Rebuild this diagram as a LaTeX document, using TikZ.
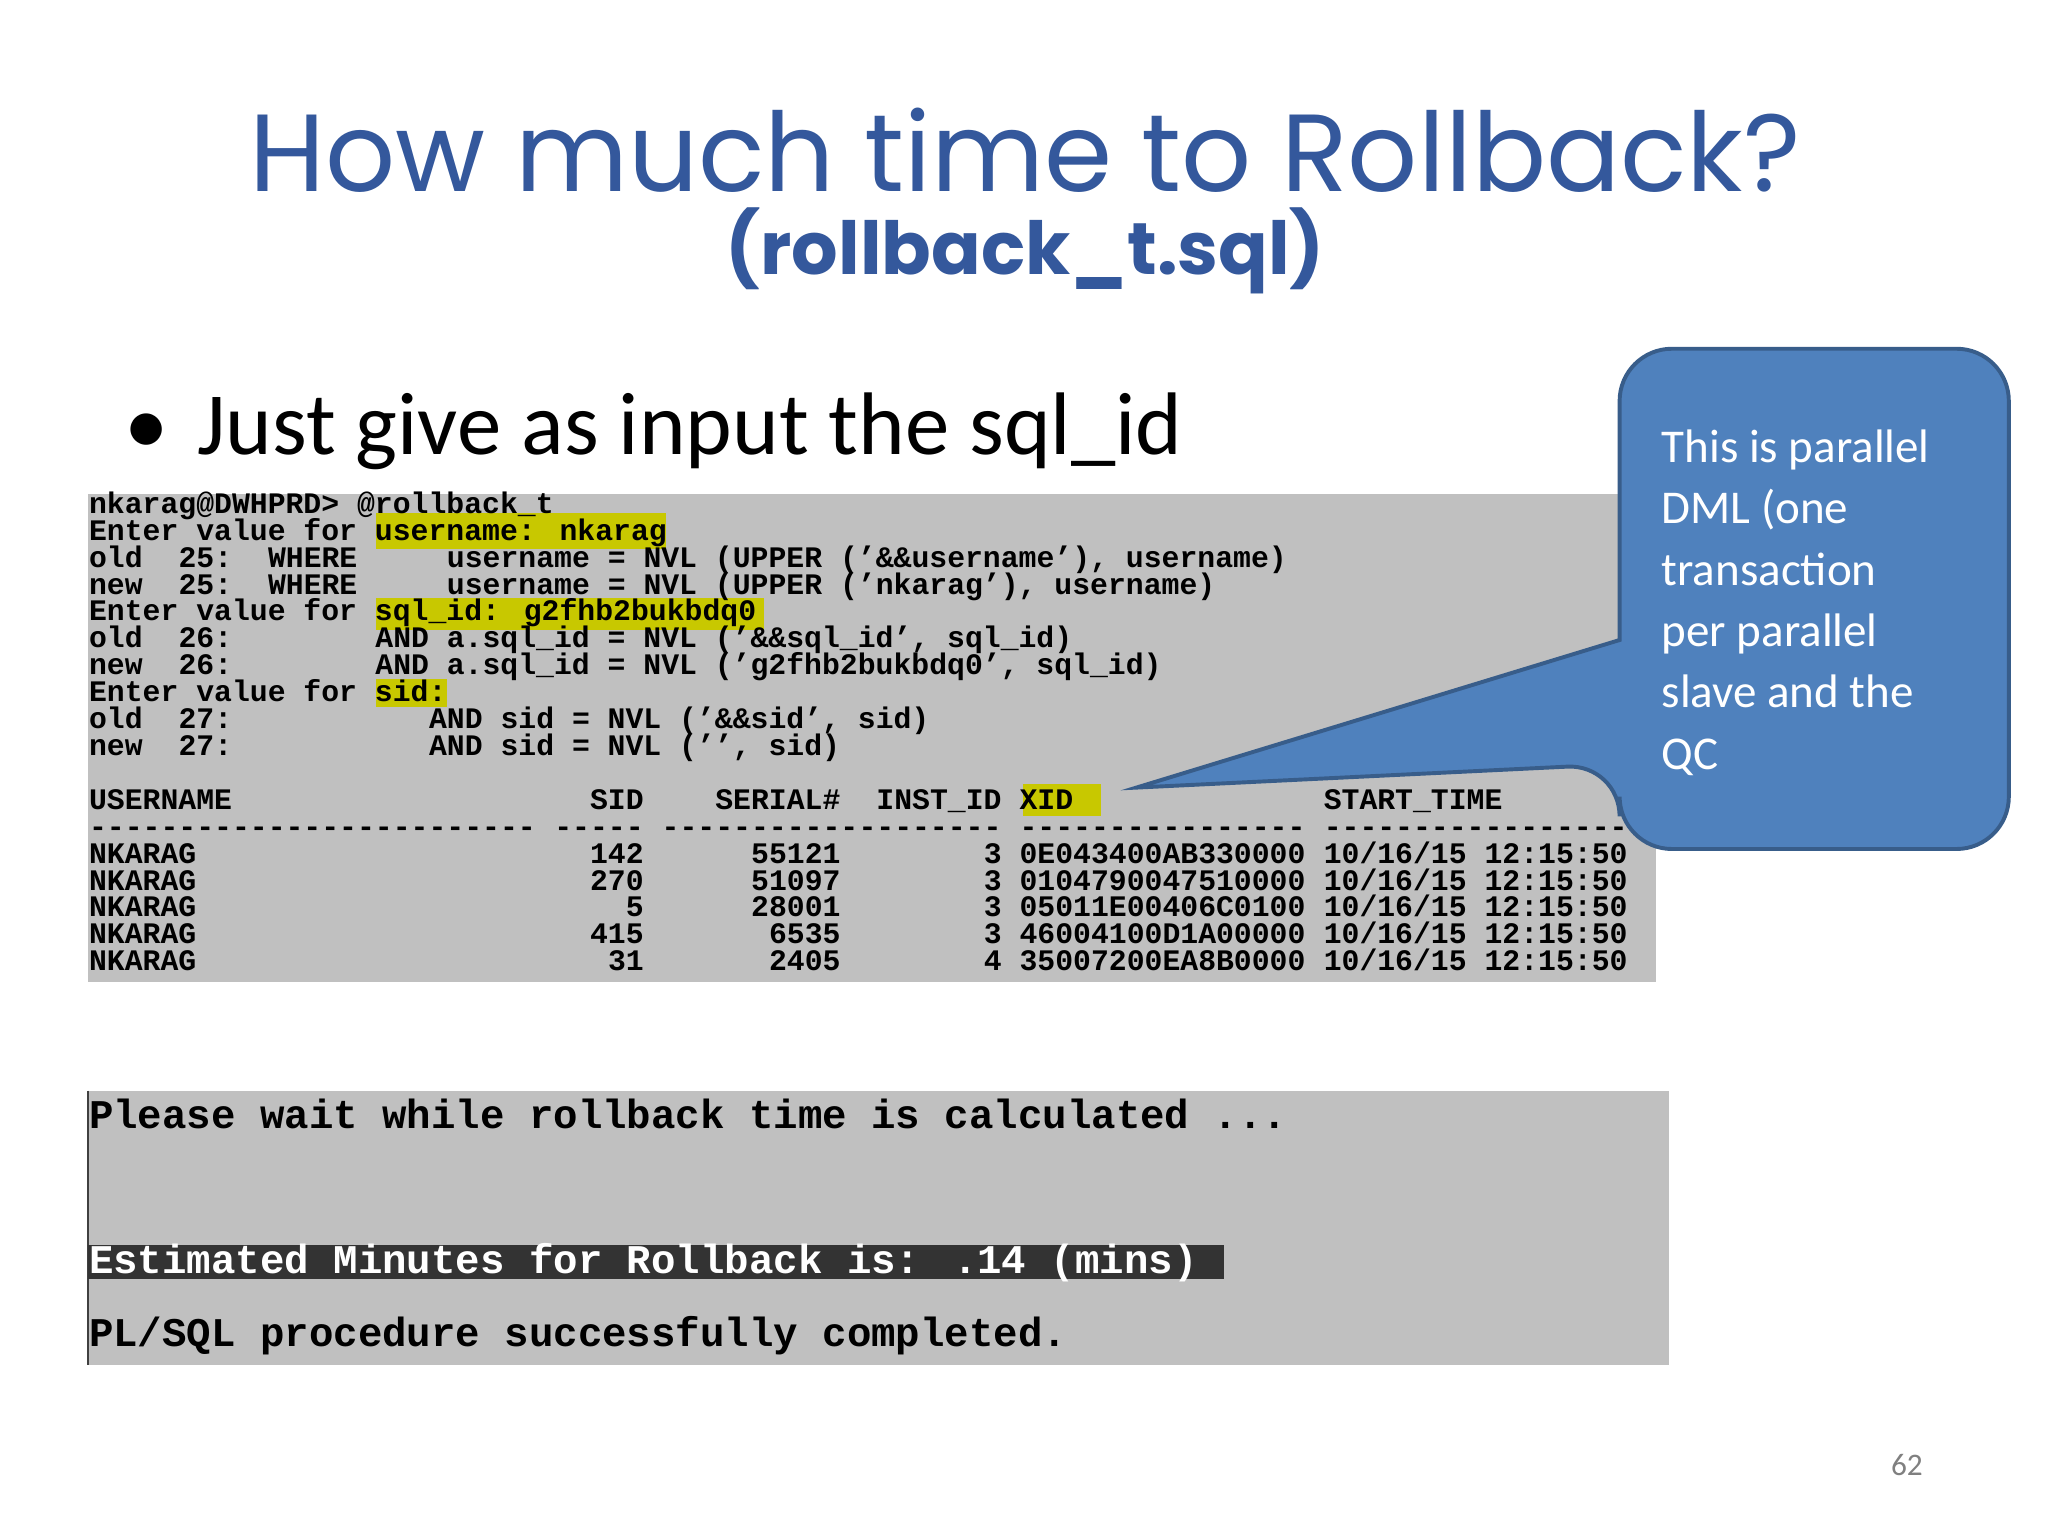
\documentclass[tikz,border=0pt]{standalone}
\usepackage{fontspec}
\setmainfont{Carlito}
\newfontfamily\titlefont{Poppins}
\newfontfamily\termfont{Liberation Mono}
\definecolor{titleblue}{HTML}{34589C}
\definecolor{termgray}{HTML}{C0C0C0}
\definecolor{hl}{HTML}{C8C800}
\definecolor{callfill}{HTML}{4F81BD}
\definecolor{callline}{HTML}{385D8A}
\tikzset{tl/.style={anchor=base west,inner sep=0pt,font=\termfont\bfseries\fontsize{22.8}{22.8}\selectfont},
 tb/.style={anchor=base west,inner sep=0pt,font=\termfont\bfseries\fontsize{31.2}{31.2}\selectfont},
 callout/.style={white,anchor=base west,inner sep=0pt,font=\fontsize{36}{36}\selectfont}}
\newcommand{\tx}[3]{\node[tl] (t#1x#2) at ({68+#2*13.7},{393+#1*20.6}) {#3};}
\begin{document}
\begin{tikzpicture}[x=1pt,y=-1pt]
\useasboundingbox (0,0) rectangle (1568,1176);
\fill[white] (0,0) rectangle (1568,1176);
\node[titleblue,font=\titlefont\fontsize{84}{84}\selectfont,inner sep=0pt] (title) at (785,115) {How much time to Rollback?};
\node[titleblue,font=\titlefont\bfseries\fontsize{56}{56}\selectfont,inner sep=0pt] (sub) at (785,192) {(rollback\_t.sql)};
\node[anchor=base west,inner sep=0pt,font=\fontsize{68}{68}\selectfont] (bullet) at (95,348) {•\hspace{22pt}Just give as input the sql\_id};
% terminal 1
\fill[termgray] (67,378) rectangle (1268,752) coordinate (t1);
\fill[hl] (288,393) rectangle (510,420);
\fill[hl] (288,458) rectangle (585,482);
\fill[hl] (288,520) rectangle (342,541);
\fill[hl] (783,600) rectangle (843,625);
\tx{0}{0}{nkarag@DWHPRD> @rollback\_t}
\tx{1}{0}{Enter value for username: nkarag}
\tx{2}{0}{old}\tx{2}{5}{25:}\tx{2}{10}{WHERE}\tx{2}{20}{username = NVL (UPPER (’\&\&username’), username)}
\tx{3}{0}{new}\tx{3}{5}{25:}\tx{3}{10}{WHERE}\tx{3}{20}{username = NVL (UPPER (’nkarag’), username)}
\tx{4}{0}{Enter value for sql\_id: g2fhb2bukbdq0}
\tx{5}{0}{old}\tx{5}{5}{26:}\tx{5}{16}{AND a.sql\_id = NVL (’\&\&sql\_id’, sql\_id)}
\tx{6}{0}{new}\tx{6}{5}{26:}\tx{6}{16}{AND a.sql\_id = NVL (’g2fhb2bukbdq0’, sql\_id)}
\tx{7}{0}{Enter value for sid:}
\tx{8}{0}{old}\tx{8}{5}{27:}\tx{8}{19}{AND sid = NVL (’\&\&sid’, sid)}
\tx{9}{0}{new}\tx{9}{5}{27:}\tx{9}{19}{AND sid = NVL (’’, sid)}
\tx{11}{0}{USERNAME}\tx{11}{28}{SID}\tx{11}{35}{SERIAL\#}\tx{11}{44}{INST\_ID}\tx{11}{52}{XID}\tx{11}{69}{START\_TIME}
\tx{12}{0}{-------------------------}\tx{12}{26}{-----}\tx{12}{32}{-----------}\tx{12}{43}{--------}\tx{12}{52}{----------------}\tx{12}{69}{-----------------}
\tx{13}{0}{NKARAG}\tx{13}{28}{142}\tx{13}{37}{55121}\tx{13}{50}{3}\tx{13}{52}{0E043400AB330000}\tx{13}{69}{10/16/15 12:15:50}
\tx{14}{0}{NKARAG}\tx{14}{28}{270}\tx{14}{37}{51097}\tx{14}{50}{3}\tx{14}{52}{0104790047510000}\tx{14}{69}{10/16/15 12:15:50}
\tx{15}{0}{NKARAG}\tx{15}{30}{5}\tx{15}{37}{28001}\tx{15}{50}{3}\tx{15}{52}{05011E00406C0100}\tx{15}{69}{10/16/15 12:15:50}
\tx{16}{0}{NKARAG}\tx{16}{28}{415}\tx{16}{38}{6535}\tx{16}{50}{3}\tx{16}{52}{46004100D1A00000}\tx{16}{69}{10/16/15 12:15:50}
\tx{17}{0}{NKARAG}\tx{17}{29}{31}\tx{17}{38}{2405}\tx{17}{50}{4}\tx{17}{52}{35007200EA8B0000}\tx{17}{69}{10/16/15 12:15:50}
% terminal 2
\fill[termgray] (67,835) rectangle (1278,1045);
\draw[black!75,line width=2pt] (67.5,835) -- (67.5,1045);
\fill[black!80] (67,953) rectangle (937,979);
\node[tb] (w1) at (68,864) {Please wait while rollback time is calculated ...};
\node[tb,white] (w2) at (68,975) {Estimated Minutes for Rollback is: .14 (mins)};
\node[tb] (w3) at (68,1031) {PL/SQL procedure successfully completed.};
% callout
\coordinate (tip) at (870,603);
\filldraw[fill=callfill,draw=callline,line width=3pt,rounded corners=40pt]
 (1240,267) -- (1538,267) -- (1538,650) -- (1240,650) -- (1240,585) [sharp corners] -- (tip) -- (1240,490) [rounded corners=40pt] -- cycle;
\node[callout] (c1) at (1272,354) {This is parallel};
\node[callout] (c2) at (1272,401) {DML (one};
\node[callout] (c3) at (1272,448) {transaction};
\node[callout] (c4) at (1272,495) {per parallel};
\node[callout] (c5) at (1272,542) {slave and the};
\node[callout] (c6) at (1272,589) {QC};
\node[gray,font=\fontsize{24}{24}\selectfont,inner sep=0pt] (pg) at (1460,1122) {62};
\end{tikzpicture}
\end{document}
